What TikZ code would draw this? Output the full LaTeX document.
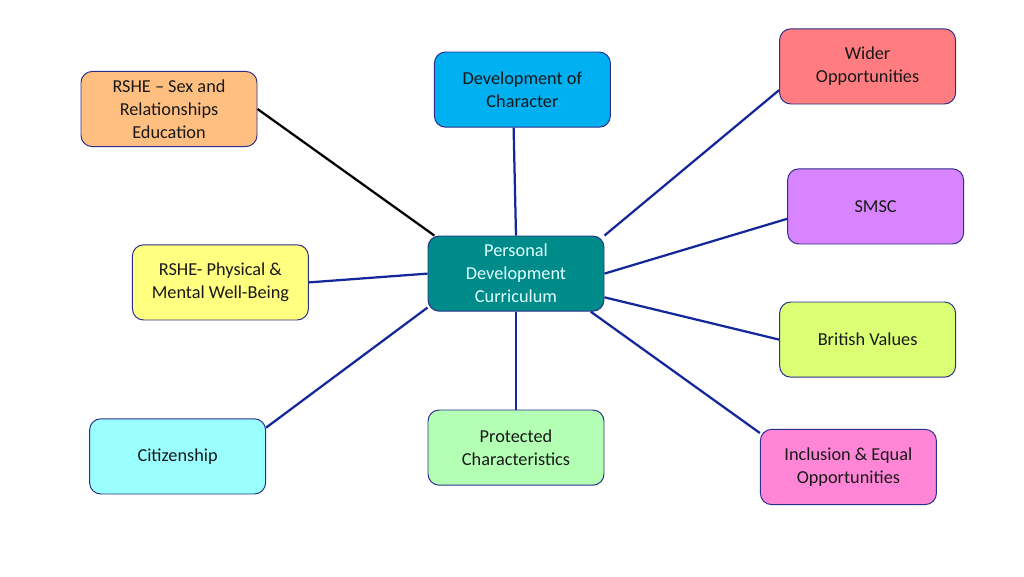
\documentclass[tikz,border=0pt]{standalone}
\usepackage{fontspec}
\setmainfont{Carlito}
\usetikzlibrary{positioning}
\definecolor{PdLine}{HTML}{14289B}
\definecolor{PdBorder}{HTML}{2B2F8A}
\definecolor{PdTeal}{HTML}{008B8B}
\definecolor{PdTealText}{HTML}{E0FFFF}
\definecolor{PdPeach}{HTML}{FFBF80}
\definecolor{PdSky}{HTML}{00B0F0}
\definecolor{PdSalmon}{HTML}{FF7C80}
\definecolor{PdViolet}{HTML}{D984FF}
\definecolor{PdYellow}{HTML}{FFFF80}
\definecolor{PdLime}{HTML}{DAFF75}
\definecolor{PdCyan}{HTML}{99FFFF}
\definecolor{PdMint}{HTML}{B3FFB3}
\definecolor{PdPink}{HTML}{FF85D6}

\begin{document}
\begin{tikzpicture}[
  topic/.style={draw=PdBorder,line width=0.7pt,rounded corners=8pt,minimum width=4.4cm,minimum height=1.88cm,align=center,font=\fontsize{13}{16.4}\selectfont,text=black!90},
  link/.style={draw=PdLine,line width=1.6pt}
]
\useasboundingbox (0,0) rectangle (25.6,-14.4);
\node[topic,fill=PdPeach] (rse) at (4.225,-2.725) {RSHE -- Sex and\\Relationships\\Education};
\node[topic,fill=PdSky] (dev) at (13.06,-2.24) {Development of\\Character};
\node[topic,fill=PdSalmon] (wid) at (21.69,-1.66) {Wider\\Opportunities};
\node[topic,fill=PdViolet] (smsc) at (21.89,-5.16) {SMSC};
\node[topic,fill=PdTeal,text=PdTealText] (pdc) at (12.9,-6.84) {Personal\\Development\\Curriculum};
\node[topic,fill=PdYellow] (rsp) at (5.51,-7.06) {RSHE- Physical \&\\Mental Well-Being};
\node[topic,fill=PdLime] (brv) at (21.69,-8.49) {British Values};
\node[topic,fill=PdCyan] (cit) at (4.44,-11.41) {Citizenship};
\node[topic,fill=PdMint] (pro) at (12.9,-11.19) {Protected\\Characteristics};
\node[topic,fill=PdPink] (inc) at (21.21,-11.675) {Inclusion \& Equal\\Opportunities};

\draw[line width=1.6pt,black] (rse.east) -- (pdc.155);
\draw[link] (dev.257) -- (pdc.north);
\draw[link] (pdc.north east) -- (wid.195);
\draw[link] (pdc.east) -- (smsc.188);
\draw[link] (pdc.345) -- (brv.west);
\draw[link] (pdc.333) -- (inc.159);
\draw[link] (pdc.south) -- (pro.north);
\draw[link] (pdc.201) -- (cit.18);
\draw[link] (pdc.west) -- (rsp.east);
\end{tikzpicture}
\end{document}
